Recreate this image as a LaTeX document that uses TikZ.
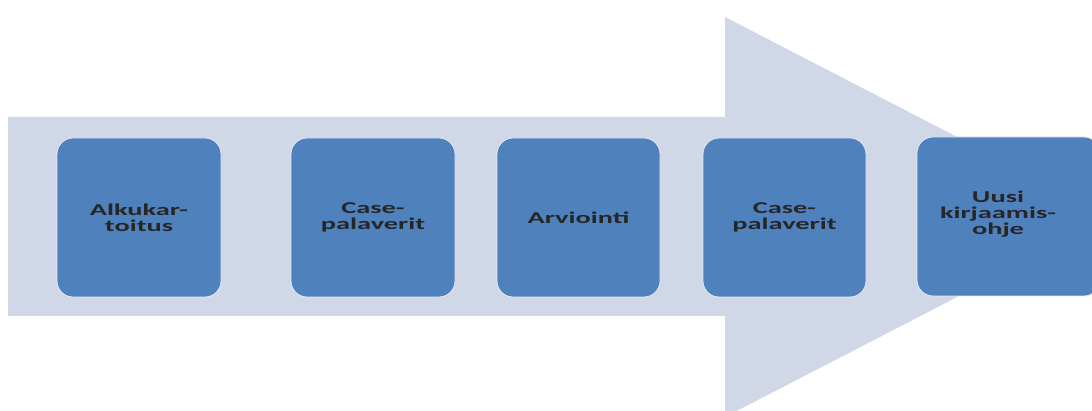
\documentclass[tikz,border=0pt]{standalone}
\usepackage{fontspec}
\setmainfont{Carlito}
\usepackage{graphicx}
\definecolor{arrowfill}{HTML}{D0D8E8}
\definecolor{stepfill}{HTML}{4F81BD}
\begin{document}
\begin{tikzpicture}[x=1pt,y=-1pt,
  stepbox/.style={draw=white!85!stepfill, line width=0.8pt, fill=stepfill,
    rounded corners=16pt},
  steplabel/.style={align=center, font=\bfseries\fontsize{16.5}{16}\selectfont,
    text=black!85, inner sep=0pt}]
\useasboundingbox (0,0) rectangle (1092,411);
\clip (0,0) rectangle (1092,411);
% background process arrow
\fill[arrowfill] (8,117) -- (725,117) -- (725,17) -- (1112,217)
  -- (725,417) -- (725,316) -- (8,316) -- cycle;
% step boxes
\newcommand{\stepnode}[6]{%
  \draw[stepbox] (#2,#3) rectangle (#4,#5);
  \node[steplabel] (#1) at ({(#2+#4)/2},{(#3+#5)/2}) {#6};}
\newcommand{\wide}[1]{\scalebox{1.72}[1]{#1}}
\stepnode{s1}{57}{138}{221}{297}{\wide{Alkukar-}\\\wide{toitus}}
\stepnode{s2}{291}{138}{455}{297}{\wide{Case-}\\\wide{palaverit}}
\stepnode{s3}{497}{138}{660}{297}{\wide{Arviointi}}
\stepnode{s4}{703}{138}{866}{297}{\wide{Case-}\\\wide{palaverit}}
\stepnode{s5}{917}{137}{1100}{296}{}
\node[steplabel] (s5t) at (998,214) {\wide{Uusi}\\\wide{kirjaamis-}\\\wide{ohje}};
\end{tikzpicture}
\end{document}
